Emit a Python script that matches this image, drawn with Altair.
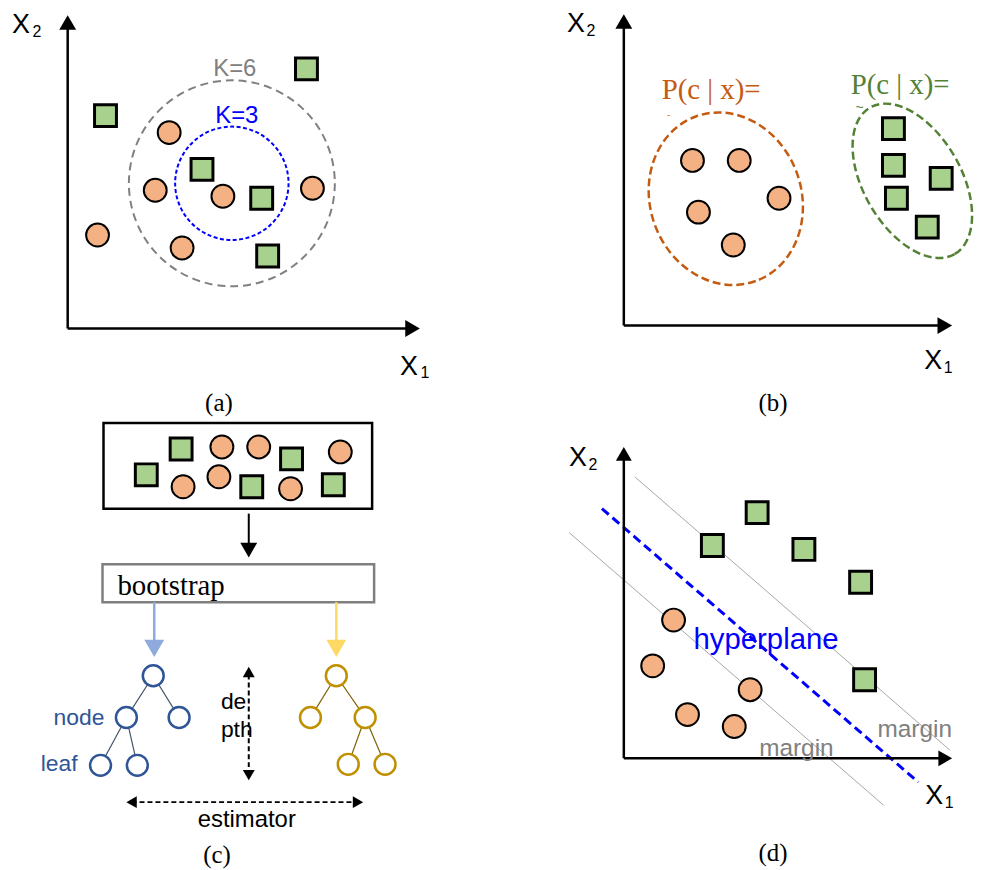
import math
import altair as alt
import pandas as pd

# ---------------- data (picture pixel coordinates) ----------------
# (a) k-nearest neighbours
a_square_x = [106, 308, 203, 263, 269]
a_square_y = [114, 67, 168, 197, 255]
a_circle_x = [170, 156, 224, 314, 98, 183]
a_circle_y = [131, 189, 195, 187, 234, 247]
a_k_center_x = [233, 233]
a_k_center_y = [182, 182]
a_k_radius = [103.5, 57]
a_k_color = ["#808080", "#0000ff"]
a_k_dash = [[8, 5], [4, 2.5]]

# (b) naive Bayes
b_circle_x = [696, 743, 783, 702, 737]
b_circle_y = [159, 159, 197, 211, 244]
b_square_x = [898, 898, 946, 901, 932]
b_square_y = [127, 164, 177, 197, 226]
b_ell_x = [729.5, 917]
b_ell_y = [197.5, 179.5]
b_ell_major = [88, 85]
b_ell_minor = [76, 49]
b_ell_angle = [70, 60]
b_ell_color = ["#c55a11", "#548235"]

# (c) random forest
c_square_x = [147, 182, 293, 253, 335]
c_square_y = [475, 449, 459, 487, 485]
c_circle_x = [223, 260, 342, 184, 220, 292]
c_circle_y = [447, 447, 452, 487, 477, 489]
tree_blue_x = [154, 127, 180, 101, 138]
tree_blue_y = [677, 719, 719, 767, 767]
tree_blue_edges = [(0, 1), (0, 2), (1, 3), (1, 4)]
tree_gold_x = [338, 312, 367, 350, 387]
tree_gold_y = [677, 719, 719, 766, 766]
tree_gold_edges = [(0, 1), (0, 2), (2, 3), (2, 4)]
c_boxes = [  # x, x2, y, y2, stroke
    (104, 374, 423, 509, "#000000"),
    (103, 376, 565, 603, "#7f7f7f"),
]

# (d) support vector machine
d_square_x = [761, 716, 808, 865, 869]
d_square_y = [513, 546, 550, 583, 681]
d_circle_x = [677, 656, 754, 691, 738]
d_circle_y = [621, 667, 691, 716, 728]
d_margin_lines = [(638, 477, 955, 752), (572, 533, 888, 807)]
d_hyperplane = [(605, 509, 923, 784)]

# arrows: start x, start y, tip x, tip y, colour, stroke width, head width, double-headed
solid_arrows = [
    (68, 328, 68, 13, "#000000", 2.5, 17, False),
    (68, 328, 422, 328, "#000000", 2.5, 17, False),
    (627, 325, 627, 12, "#000000", 2.5, 17, False),
    (627, 325, 957, 325, "#000000", 2.5, 17, False),
    (627, 760, 627, 447, "#000000", 2.5, 16, False),
    (627, 760, 957, 760, "#000000", 2.5, 16, False),
    (250, 514, 250, 558, "#000000", 2.0, 17, False),
    (155, 603, 155, 658, "#8faadc", 2.5, 20, False),
    (338, 603, 338, 658, "#ffd966", 2.5, 20, False),
]
dashed_arrows = [
    (250, 782, 250, 668, "#000000", 2.0, 12, True),
    (127, 804, 365, 804, "#000000", 2.0, 12, True),
]

# texts
sans_center = [  # text, x, y, colour, size
    ("X", 21, 23, "#000000", 27), ("2", 37, 30, "#000000", 16),
    ("X", 411, 367, "#000000", 27), ("1", 427, 373, "#000000", 16),
    ("X", 579, 22, "#000000", 27), ("2", 594, 29, "#000000", 16),
    ("X", 938, 361, "#000000", 27), ("1", 953, 368, "#000000", 16),
    ("X", 939, 798, "#000000", 27), ("1", 954, 805, "#000000", 16),
    ("X", 581, 458, "#000000", 27), ("2", 596, 465, "#000000", 16),
    ("K=6", 236, 67, "#808080", 24),
    ("K=3", 238, 114, "#0000ff", 24),
    ("estimator", 248, 822, "#000000", 24),
    ("~", 864, 106, "#548235", 14),
    ("-", 672, 113, "#c55a11", 10),
]
sans_left = [
    ("de", 222, 703, "#000000", 23),
    ("pth", 222, 732, "#000000", 23),
    ("hyperplane", 697, 641, "#0000ff", 29.5),
    ("margin", 763, 751, "#808080", 24.5),
    ("margin", 882, 732, "#808080", 24.5),
]
sans_right = [
    ("node", 105, 719, "#2f5597", 23),
    ("leaf", 78, 766, "#2f5597", 23),
]
serif_center = [
    ("(a)", 220, 403, "#000000", 25),
    ("(b)", 777, 403, "#000000", 25),
    ("(c)", 218, 857, "#000000", 25),
    ("(d)", 777, 855, "#000000", 25),
]
serif_left = [
    ("bootstrap", 118, 587, "#000000", 29),
    ("P(c | x)=", 665, 88, "#c55a11", 29),
    ("P(c | x)=", 855, 83, "#548235", 29),
]

# ---------------- helpers ----------------
W, H = 950, 854
X0, Y0 = 8, 11          # where the drawing area starts in the picture
XS = alt.Scale(domain=[X0, X0 + W], nice=False, zero=False)
YS = alt.Scale(domain=[Y0, Y0 + H], nice=False, zero=False, reverse=True)


def X(f):
    return alt.X(f, type="quantitative", scale=XS, axis=None)


def Y(f):
    return alt.Y(f, type="quantitative", scale=YS, axis=None)


def seg_df(rows):
    return pd.DataFrame(rows, columns=["x", "y", "x2", "y2"])


def rule_layer(df, color, width, dash=None, opacity=1.0):
    kw = dict(color=color, strokeWidth=width, opacity=opacity)
    if dash is not None:
        kw["strokeDash"] = dash
    return alt.Chart(df).mark_rule(**kw).encode(
        x=X("x"), y=Y("y"), x2=alt.X2("x2"), y2=alt.Y2("y2")
    )


def arrow_parts(arrows):
    rules, heads = [], []
    for (x0, y0, x1, y1, col, w, hw, double) in arrows:
        dx, dy = x1 - x0, y1 - y0
        L = math.hypot(dx, dy)
        ux, uy = dx / L, dy / L
        h = math.sqrt(3) / 2 * hw / 2

        def shape(ux, uy):
            if abs(ux) > abs(uy):
                return "triangle-right" if ux > 0 else "triangle-left"
            return "triangle-down" if uy > 0 else "triangle-up"

        cx1, cy1 = x1 - ux * h, y1 - uy * h
        heads.append(dict(x=cx1, y=cy1, shape=shape(ux, uy), c=col, s=hw * hw))
        sx, sy = x0, y0
        if double:
            sx, sy = x0 + ux * h, y0 + uy * h
            heads.append(dict(x=sx, y=sy, shape=shape(-ux, -uy), c=col, s=hw * hw))
        rules.append(dict(x=sx, y=sy, x2=cx1 - ux * 2, y2=cy1 - uy * 2, c=col, w=w))
    return pd.DataFrame(rules), pd.DataFrame(heads)


def head_layer(df):
    return alt.Chart(df).mark_point(filled=True, opacity=1, strokeWidth=0).encode(
        x=X("x"), y=Y("y"),
        shape=alt.Shape("shape:N", scale=None),
        color=alt.Color("c:N", scale=None),
        size=alt.Size("s:Q", scale=None),
    )


def text_layer(rows, font, align):
    df = pd.DataFrame(rows, columns=["t", "x", "y", "c", "s"])
    return alt.Chart(df).mark_text(font=font, align=align, baseline="middle").encode(
        x=X("x"), y=Y("y"), text="t:N",
        color=alt.Color("c:N", scale=None),
        size=alt.Size("s:Q", scale=None),
    )


def ellipse_path(e, k=0.5523):
    ke = k * e
    return (f"M1,0C1,{ke:.4f} {k},{e:.4f} 0,{e:.4f}"
            f"C{-k},{e:.4f} -1,{ke:.4f} -1,0"
            f"C-1,{-ke:.4f} {-k},{-e:.4f} 0,{-e:.4f}"
            f"C{k},{-e:.4f} 1,{-ke:.4f} 1,0Z")


# ---------------- layers ----------------
layers = []

# (a) dashed neighbourhood circles
for cx, cy, r, col, dash in zip(a_k_center_x, a_k_center_y, a_k_radius, a_k_color, a_k_dash):
    layers.append(
        alt.Chart(pd.DataFrame({"x": [cx], "y": [cy]})).mark_point(
            shape="circle", filled=False, opacity=1, stroke=col, strokeWidth=2,
            strokeDash=dash, size=(2 * r) ** 2,
        ).encode(x=X("x"), y=Y("y"))
    )

# (b) dashed class ellipses
for cx, cy, a, b, ang, col in zip(b_ell_x, b_ell_y, b_ell_major, b_ell_minor, b_ell_angle, b_ell_color):
    layers.append(
        alt.Chart(pd.DataFrame({"x": [cx], "y": [cy]})).mark_point(
            shape=ellipse_path(b / a), filled=False, opacity=1, stroke=col,
            strokeWidth=2.5, strokeDash=[8, 4], size=(2 * a) ** 2, angle=ang,
        ).encode(x=X("x"), y=Y("y"))
    )

# (c) boxes
for (x0, x1, y0, y1, col) in c_boxes:
    layers.append(
        alt.Chart(pd.DataFrame({"x": [x0], "x2": [x1], "y": [y0], "y2": [y1]})).mark_rect(
            fillOpacity=0, stroke=col, strokeWidth=2.5
        ).encode(x=X("x"), x2=alt.X2("x2"), y=Y("y"), y2=alt.Y2("y2"))
    )

# (d) margin lines and hyperplane
layers.append(rule_layer(seg_df(d_margin_lines), "#a6a6a6", 1))
layers.append(rule_layer(seg_df(d_hyperplane), "#0000ff", 3, dash=[9, 5]))

# tree edges
blue_edges = [(tree_blue_x[i], tree_blue_y[i], tree_blue_x[j], tree_blue_y[j]) for i, j in tree_blue_edges]
gold_edges = [(tree_gold_x[i], tree_gold_y[i], tree_gold_x[j], tree_gold_y[j]) for i, j in tree_gold_edges]
layers.append(rule_layer(seg_df(blue_edges), "#44546a", 1.2))
layers.append(rule_layer(seg_df(gold_edges), "#7f6000", 1.2))

# tree nodes
for xs, ys, col in [(tree_blue_x, tree_blue_y, "#2f5597"), (tree_gold_x, tree_gold_y, "#bf9000")]:
    layers.append(
        alt.Chart(pd.DataFrame({"x": xs, "y": ys})).mark_point(
            shape="circle", filled=True, fill="white", opacity=1, stroke=col,
            strokeWidth=2.5, size=21 * 21,
        ).encode(x=X("x"), y=Y("y"))
    )

# arrows
sr, sh = arrow_parts(solid_arrows)
for _, r in sr.iterrows():
    layers.append(rule_layer(pd.DataFrame([r[["x", "y", "x2", "y2"]]]), r["c"], r["w"]))
layers.append(head_layer(sh))
dr, dh = arrow_parts(dashed_arrows)
layers.append(rule_layer(dr[["x", "y", "x2", "y2"]], "#000000", 2, dash=[5, 3]))
layers.append(head_layer(dh))

# data points
circ_x = a_circle_x + b_circle_x + c_circle_x + d_circle_x
circ_y = a_circle_y + b_circle_y + c_circle_y + d_circle_y
sq_x = a_square_x + b_square_x + c_square_x + d_square_x
sq_y = a_square_y + b_square_y + c_square_y + d_square_y
layers.append(
    alt.Chart(pd.DataFrame({"x": circ_x, "y": circ_y})).mark_point(
        shape="circle", filled=True, fill="#f4b183", stroke="#000000",
        strokeWidth=2, opacity=1, size=23 * 23,
    ).encode(x=X("x"), y=Y("y"))
)
layers.append(
    alt.Chart(pd.DataFrame({"x": sq_x, "y": sq_y})).mark_point(
        shape="square", filled=True, fill="#a9d18e", stroke="#000000",
        strokeWidth=3, opacity=1, size=22 * 22,
    ).encode(x=X("x"), y=Y("y"))
)

# texts
SANS = "Liberation Sans"
SERIF = "Liberation Serif"
layers.append(text_layer(sans_center, SANS, "center"))
layers.append(text_layer(sans_left, SANS, "left"))
layers.append(text_layer(sans_right, SANS, "right"))
layers.append(text_layer(serif_center, SERIF, "center"))
layers.append(text_layer(serif_left, SERIF, "left"))

chart = alt.layer(*layers).properties(width=W, height=H, padding=0).configure_view(stroke=None)

chart.save("out.html", embed_options={"renderer": "svg", "actions": False})
